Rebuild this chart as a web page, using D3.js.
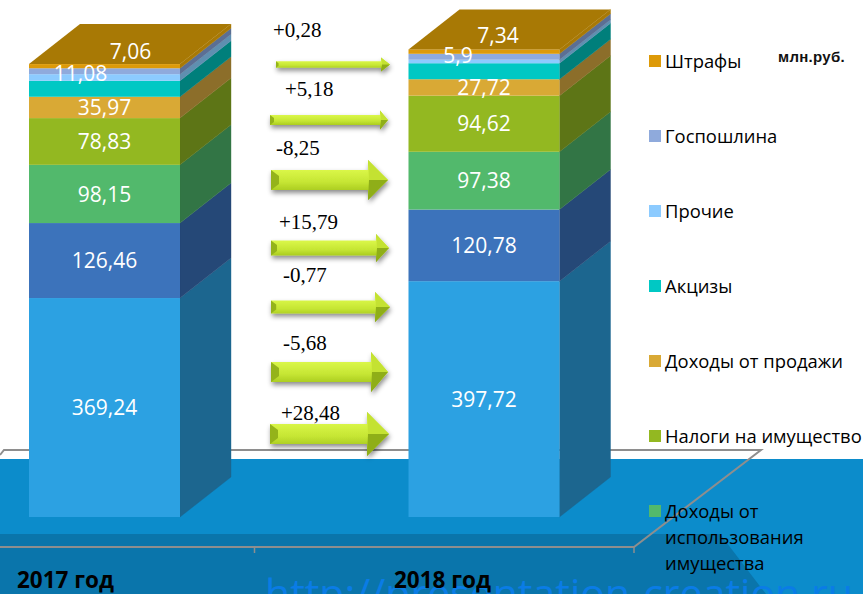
<!DOCTYPE html>
<html lang="ru"><head><meta charset="utf-8">
<script src="https://cdn.jsdelivr.net/npm/d3@7/dist/d3.min.js"></script>
<style>html,body{margin:0;padding:0;background:#fff;overflow:hidden}svg{display:block}</style>
</head><body><svg id="c" width="863" height="594"></svg>
<script>
// ---- data ----
const years = ["2017 год", "2018 год"];
const seriesNames = ["Ряд 1","Ряд 2","Доходы от использования имущества","Налоги на имущество","Доходы от продажи","Акцизы","Прочие","Госпошлина","Штрафы"];
const values2017 = [369.24, 126.46, 98.15, 78.83, 35.97, 27, 11.08, 10, 7.06];
const values2018 = [397.72, 120.78, 97.38, 94.62, 27.72, 27, 5.9, 10, 7.34];
const labels2017 = ["369,24","126,46","98,15","78,83","35,97","","11,08","","7,06"];
const labels2018 = ["397,72","120,78","97,38","94,62","27,72","","5,9","","7,34"];
const legendNames = ["Штрафы","Госпошлина","Прочие","Акцизы","Доходы от продажи","Налоги на имущество",["Доходы от","использования","имущества"]];
const changes = ["+0,28","+5,18","-8,25","+15,79","-0,77","-5,68","+28,48"];

// ---- styles and layout ----
const frontColors = ["#2ca1e2","#3c73bb","#52b96c","#93b821","#d9a935","#00c8c4","#8ccbff","#8faadc","#dd9a08"];
const sideColors  = ["#1c668f","#254877","#327545","#5d7516","#8c6e2a","#007f7b","#5f8fb0","#5b6f94","#a87905"];
const legendColors = ["#dd9a08","#8faadc","#8ccbff","#00c8c4","#d9a935","#93b821","#52b96c"];
const depthX = 51, depthY = -40;
const arrowLayout = [
  {x0:276,x1:390,hx:381,cy:64.5,sh:3.2,hh:7,  tx:273,ty:37},
  {x0:270,x1:388,hx:380,cy:120, sh:5,  hh:9.5,tx:285,ty:96},
  {x0:271,x1:388,hx:368,cy:180, sh:10, hh:20, tx:276,ty:155},
  {x0:271,x1:389,hx:376,cy:248, sh:7.5,hh:14, tx:279,ty:229},
  {x0:271,x1:390,hx:375,cy:307, sh:6.5,hh:15, tx:283,ty:282},
  {x0:271,x1:388,hx:371,cy:372, sh:10, hh:20, tx:283,ty:350},
  {x0:270,x1:389,hx:367,cy:434, sh:10, hh:22, tx:281,ty:420}
];
const legendY = [61,136,211,286,361,436,511];

const svg = d3.select("#c");
const defs = svg.append("defs");
const g1 = defs.append("linearGradient").attr("id","arrowFill").attr("x1",0).attr("y1",0).attr("x2",0).attr("y2",1);
[[0,"#a9cc1e"],[0.22,"#dcf84a"],[0.55,"#c6e634"],[0.8,"#a6c81e"],[1,"#7f9c14"]].forEach(d=>g1.append("stop").attr("offset",d[0]).attr("stop-color",d[1]));
const sh = defs.append("filter").attr("id","shadow").attr("x","-10%").attr("y","-40%").attr("width","125%").attr("height","200%");
sh.append("feDropShadow").attr("dx",1).attr("dy",3).attr("stdDeviation",2.5).attr("flood-color","#000").attr("flood-opacity",0.45);

// ---- floor ----
const lineP = d3.line();
svg.append("rect").attr("x",0).attr("y",459).attr("width",863).attr("height",135).attr("fill","#0c8ccb");
svg.append("path").attr("d",lineP([[0,534],[720,534],[766,594],[0,594]])+"Z").attr("fill","#0a75ab");
svg.append("path").attr("d",lineP([[0,455],[4,450],[761,450],[634,547],[0,547]])).attr("fill","none").attr("stroke","#8e8e8e").attr("stroke-width",2);

// ---- scales ----
const x = d3.scaleBand().domain(years).range([29,559.5]).paddingInner(0.6021).paddingOuter(0);
const y = d3.scaleLinear().domain([0,800]).range([517,42.6]);
const color = d3.scaleOrdinal().domain(seriesNames).range(frontColors);
const side = d3.scaleOrdinal().domain(seriesNames).range(sideColors);

const table = years.map((yr,i)=>{
  const r = {year:yr};
  const vals = i===0?values2017:values2018;
  seriesNames.forEach((n,j)=>r[n]=vals[j]);
  return r;
});
const stack = d3.stack().keys(seriesNames)(table);

// axis ticks on the front floor edge
const tickX = years.map(d=>x(d)+x.bandwidth()+74);
svg.append("g").attr("transform","translate(0,547)")
  .call(d3.axisBottom(d3.scaleLinear().domain([0,863]).range([0,863])).tickValues(tickX).tickSize(6).tickFormat(""))
  .call(g=>g.select(".domain").remove())
  .call(g=>g.selectAll("line").attr("stroke","#8e8e8e").attr("stroke-width",1.5));

// ---- bars ----
const bars = svg.append("g");
stack.forEach(layer=>{
  layer.forEach((d,bi)=>{
    const yr = years[bi], x0=x(yr), x1=x0+x.bandwidth(), yb=y(d[0]), yt=y(d[1]);
    bars.append("path").attr("d",lineP([[x1,yb],[x1+depthX,yb+depthY],[x1+depthX,yt+depthY],[x1,yt]])+"Z").attr("fill",side(layer.key)).attr("stroke",side(layer.key)).attr("stroke-width",0.4);
    bars.append("rect").attr("x",x0).attr("y",yt).attr("width",x.bandwidth()).attr("height",yb-yt).attr("fill",color(layer.key));
  });
});
const topLayer = stack[stack.length-1];
topLayer.forEach((d,bi)=>{
  const x0=x(years[bi]), x1=x0+x.bandwidth(), yt=y(d[1]);
  bars.append("path").attr("d",lineP([[x0,yt],[x0+depthX,yt+depthY],[x1+depthX,yt+depthY],[x1,yt]])+"Z").attr("fill","#a87905");
});

// ---- data labels ----
const font = "'Open Sans','Noto Sans',sans-serif";
const labelG = svg.append("g").attr("font-family",font).attr("font-size",21).attr("fill","#fff").attr("text-anchor","middle");
stack.forEach((layer,si)=>{
  layer.forEach((d,bi)=>{
    const txt = (bi===0?labels2017:labels2018)[si];
    if(!txt) return;
    const bw = x.bandwidth();
    let cx = x(years[bi])+bw/2, cy = (y(d[0])+y(d[1]))/2;
    if(layer.key==="Штрафы"){ cx += bi===0?26:14; cy -= bi===0?15:16; }
    if(layer.key==="Прочие"){ cx += bi===0?-24:-26; cy += bi===0?-4:-6; }
    labelG.append("text").attr("x",cx).attr("y",cy).attr("dy","0.36em").text(txt);
  });
});

// ---- arrows ----
const arrows = svg.append("g");
changes.forEach((c,i)=>{
  const a = arrowLayout[i];
  const g = arrows.append("g");
  g.append("path").attr("filter","url(#shadow)").attr("fill","url(#arrowFill)")
    .attr("d",lineP([[a.x0,a.cy-a.sh],[a.hx,a.cy-a.sh],[a.hx,a.cy-a.hh],[a.x1,a.cy],[a.hx,a.cy+a.hh],[a.hx,a.cy+a.sh],[a.x0,a.cy+a.sh]])+"Z");
  // head bevels: bright upper wing, dark lower wing
  g.append("path").attr("fill","#c4e232").attr("d",lineP([[a.hx,a.cy-a.hh],[a.x1,a.cy],[a.hx+1,a.cy]])+"Z");
  g.append("path").attr("fill","#8fae18").attr("d",lineP([[a.hx,a.cy+a.hh],[a.x1,a.cy],[a.hx+1,a.cy]])+"Z");
  // left end bevel
  g.append("path").attr("fill","#94b31a").attr("d",lineP([[a.x0,a.cy-a.sh],[a.x0+a.sh*0.8,a.cy-a.sh*0.4],[a.x0+a.sh*0.8,a.cy+a.sh*0.4],[a.x0,a.cy+a.sh]])+"Z");
  svg.append("text").attr("x",a.tx).attr("y",a.ty).attr("font-family","'Liberation Serif',serif").attr("font-size",21).attr("fill","#000").text(c);
});

// ---- watermark under the legend and category labels ----
svg.append("text").attr("x",265).attr("y",608).attr("font-family",font).attr("font-size",41).attr("fill","#0a7ce6").text("http://presentation-creation.ru");

// ---- legend ----
const leg = svg.append("g").attr("font-family",font).attr("font-size",18.4).attr("fill","#000");
legendNames.forEach((n,i)=>{
  const yy = legendY[i];
  leg.append("rect").attr("x",649).attr("y",yy-6).attr("width",12).attr("height",12).attr("fill",legendColors[i]);
  const lines = Array.isArray(n)?n:[n];
  lines.forEach((t,k)=>leg.append("text").attr("x",665).attr("y",yy+7+k*26).text(t));
});
svg.append("text").attr("x",778).attr("y",62).attr("font-family","'Liberation Sans',sans-serif").attr("font-weight",700).attr("font-size",15).attr("letter-spacing",0.3).attr("fill","#111").text("млн.руб.");

// ---- category labels ----
const catX = [17,394];
years.forEach((yr,i)=>svg.append("text").attr("x",catX[i]).attr("y",588).attr("font-family",font).attr("font-weight",700).attr("font-size",22.5).attr("fill","#000").text(yr));
</script></body></html>
